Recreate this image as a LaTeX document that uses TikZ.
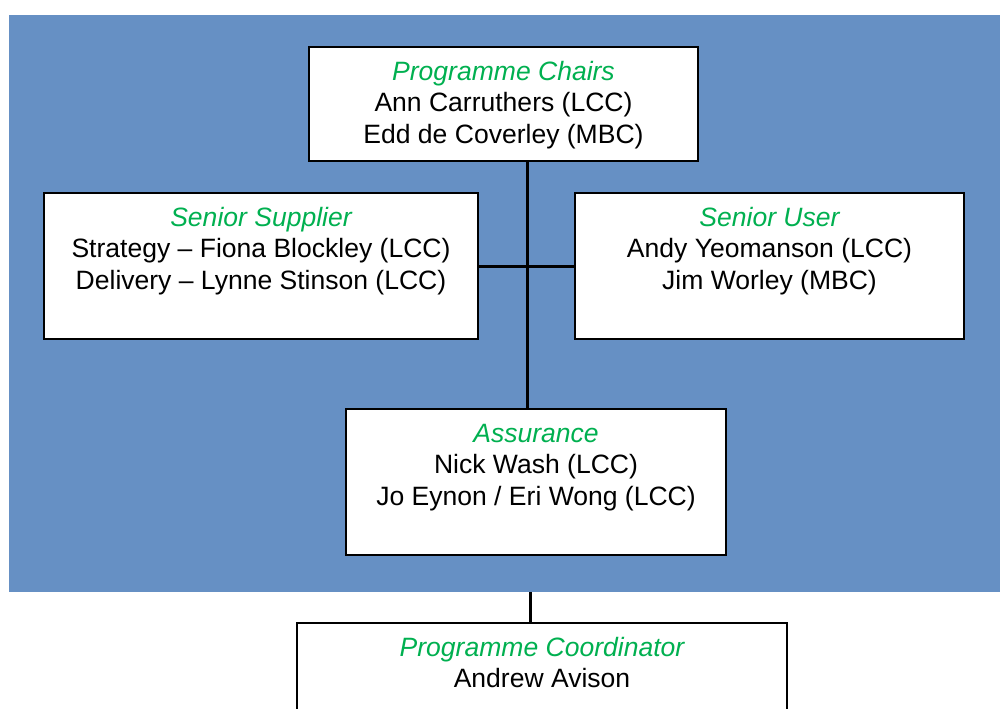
\documentclass[tikz,border=0pt]{standalone}
\usepackage{fontspec}
\setmainfont{Liberation Sans}
\usepackage{xcolor}
\usepackage{tikz}

\definecolor{panelblue}{RGB}{102,144,196}
\definecolor{rolegreen}{RGB}{0,176,80}
\newcommand{\role}[1]{\textcolor{rolegreen}{\itshape #1}}

\begin{document}
\begin{tikzpicture}[x=0.02cm, y=-0.02cm, font=\fontsize{15.1}{17.9}\selectfont,
  box/.style={draw=black, line width=0.03cm, fill=white, inner sep=0pt},
  names/.style={align=center, anchor=north, inner sep=0pt, yshift=-6.6pt},
  link/.style={line width=0.06cm}]
  \useasboundingbox (0,0) rectangle (1000,708);
  \clip (0,0) rectangle (1000,708);
  % blue board panel
  \node[fill=panelblue, inner sep=0pt, minimum width=20.2cm, minimum height=11.54cm] (panel) at (514,303.5) {};
  \coordinate (spine) at (527,0);
  \coordinate (drop) at (530,0);
  \node[box, minimum width=7.78cm, minimum height=2.28cm] (chairs) at (503.5,104) {};
  \node[box, minimum width=8.68cm, minimum height=2.92cm] (supplier) at (261,266) {};
  \node[box, minimum width=7.78cm, minimum height=2.92cm] (user) at (769.5,266) {};
  \node[box, minimum width=7.6cm, minimum height=2.92cm] (assurance) at (536,482) {};
  \node[box, minimum width=9.8cm, minimum height=2.92cm] (coordinator) at (542,696) {};
  % connectors
  \draw[link] (chairs.south -| spine) -- (assurance.north -| spine);
  \draw[link] (supplier.east) -- (user.west);
  \draw[link] (panel.south -| drop) -- (coordinator.north -| drop);
  % box texts
  \node[names] (chairs-txt) at (chairs.north) {\strut\role{Programme Chairs}\\ Ann Carruthers (LCC)\\ Edd de Coverley (MBC)};
  \node[names] (supplier-txt) at (supplier.north) {\strut\role{Senior Supplier}\\ Strategy -- Fiona Blockley (LCC)\\ Delivery -- Lynne Stinson (LCC)};
  \node[names] (user-txt) at (user.north) {\strut\role{Senior User}\\ Andy Yeomanson (LCC)\\ Jim Worley (MBC)};
  \node[names] (assurance-txt) at (assurance.north) {\strut\role{Assurance}\\ Nick Wash (LCC)\\ Jo Eynon / Eri Wong (LCC)};
  \node[names] (coordinator-txt) at (coordinator.north) {\strut\role{Programme Coordinator}\\ Andrew Avison};
\end{tikzpicture}
\end{document}
